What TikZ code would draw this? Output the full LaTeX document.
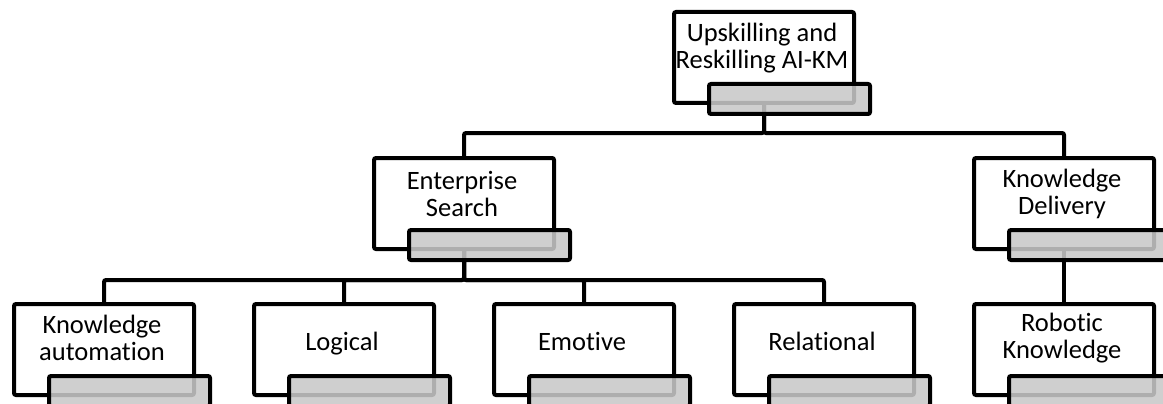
\documentclass[tikz,border=0pt]{standalone}
\usepackage{fontspec}
\setmainfont{Carlito}[Ligatures={NoCommon}]
\begin{document}
\begin{tikzpicture}[x=1pt,y=-1pt]
\tikzset{
 boxw/.style={draw, line width=4pt, fill=white, rounded corners=2pt, minimum width=180pt, minimum height=91pt, anchor=north west, inner sep=0pt},
 barbox/.style={draw, line width=4pt, fill={rgb,255:red,201;green,201;blue,201}, fill opacity=0.87, rounded corners=2pt, minimum width=161pt, minimum height=30pt, anchor=north west, inner sep=0pt},
 lbl/.style={font=\fontsize{26.5}{27}\selectfont, align=center, anchor=center, inner sep=0pt},
 lbl1/.style={font=\fontsize{26.5}{27}\selectfont, anchor=base, inner sep=0pt},
 conn/.style={line width=4pt, rounded corners=2pt}
}
\useasboundingbox (0,0) rectangle (1163,404);
\clip (0,0) rectangle (1163,404);
\fill[white] (0,0) rectangle (1163,404);
% white boxes
\node[boxw] (top) at (672,10) {};
\node[boxw] (es) at (372,156) {};
\node[boxw] (kd) at (972,156) {};
\node[boxw] (ka) at (12,302) {};
\node[boxw] (lg) at (252,302) {};
\node[boxw] (em) at (492,302) {};
\node[boxw] (rl) at (732,302) {};
\node[boxw] (rk) at (972,302) {};
% buses
\coordinate (bus1) at (762,133);
\coordinate (bus2) at (462,280);
% connectors
\draw[conn] (top.south) -- (top.south |- bus1) -| (es.north);
\draw[conn] (top.south) -- (top.south |- bus1) -| (kd.north);
\draw[conn] (es.south) -- (es.south |- bus2) -| (ka.north);
\draw[conn] (es.south) -- (es.south |- bus2) -| (lg.north);
\draw[conn] (es.south) -- (es.south |- bus2) -| (em.north);
\draw[conn] (es.south) -- (es.south |- bus2) -| (rl.north);
\draw[conn] (kd.south) -- (rk.north);
% bars
\node[barbox] (topbar) at (707,82) {};
\node[barbox] (esbar) at (407,228) {};
\node[barbox] (kdbar) at (1007,228) {};
\node[barbox] (kabar) at (47,374) {};
\node[barbox] (lgbar) at (287,374) {};
\node[barbox] (embar) at (527,374) {};
\node[barbox] (rlbar) at (767,374) {};
\node[barbox] (rkbar) at (1007,374) {};
% labels
\node[lbl] (topt) at (762,48) {Upskilling and\\Reskilling AI-KM};
\node[lbl] (est) at (462,194) {Enterprise\\Search};
\node[lbl] (kdt) at (1062,194) {Knowledge\\Delivery};
\node[lbl] (kat) at (102,338) {Knowledge\\automation};
\node[lbl1] (lgt) at (342,350) {Logical};
\node[lbl1] (emt) at (582,350) {Emotive};
\node[lbl1] (rlt) at (822,350) {Relational};
\node[lbl] (rkt) at (1062,338) {Robotic\\Knowledge};
\end{tikzpicture}
\end{document}
